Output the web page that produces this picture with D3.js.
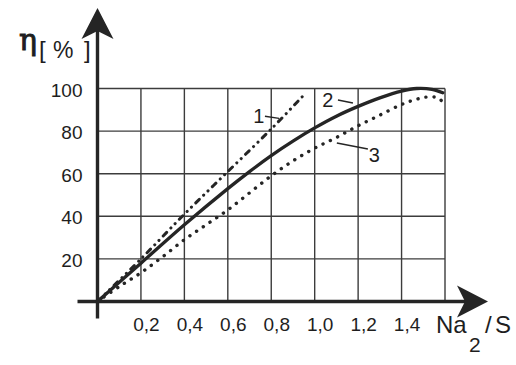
<!DOCTYPE html>
<html>
<head>
<meta charset="utf-8">
<script src="https://cdn.jsdelivr.net/npm/d3@7"></script>
<style>
  html, body { margin: 0; padding: 0; background: #ffffff; }
  svg { display: block; }
  text { font-family: "Liberation Sans", Arial, sans-serif; fill: #1e1e1e; }
</style>
</head>
<body>
<svg id="chart" width="516" height="365"></svg>
<script>
// ---- data ----
const xTickValues = [0.2, 0.4, 0.6, 0.8, 1.0, 1.2, 1.4];
const xGridValues = [0.2, 0.4, 0.6, 0.8, 1.0, 1.2, 1.4, 1.6];
const yTickValues = [20, 40, 60, 80, 100];

const curve1X = [0, 0.2, 0.4, 0.6, 0.8, 0.96];
const curve1Y = [0, 20, 41, 61, 81, 98];

const curve2X = [0, 0.2, 0.4, 0.6, 0.7, 0.8, 0.9, 1.0, 1.1, 1.2, 1.3, 1.4, 1.47, 1.54, 1.59];
const curve2Y = [0, 18, 36, 53, 61, 68.5, 75.3, 81.5, 87, 91.6, 95.6, 98.8, 100, 99.6, 98];

const curve3X = [0, 0.1, 0.2, 0.3, 0.4, 0.5, 0.6, 0.7, 0.8, 0.9, 1.0, 1.1, 1.2, 1.3, 1.4, 1.47, 1.52, 1.57, 1.6];
const curve3Y = [0, 7, 13.5, 21, 29, 36, 43, 51, 59, 66, 72, 77, 82.5, 87.5, 92.5, 95, 96, 95.5, 92];

const curveNames = ["1", "2", "3"];
// label anchor (data units) and leader line endpoints (data units)
const labelX = [0.743, 1.061, 1.275];
const labelY = [83.8, 91.3, 65.5];
const leaderX1 = [0.771, 1.107, 1.102];
const leaderY1 = [87, 94.6, 74.4];
const leaderX2 = [0.836, 1.176, 1.245];
const leaderY2 = [86, 93.2, 71.6];

const yAxisTitle = ["η", "[", "%", "]"];
const xAxisTitle = ["Na", "2", "/", "S"];

// ---- drawing ----
const svg = d3.select("#chart");
const ink = "#252525";

const x = d3.scaleLinear().domain([0, 1.6]).range([97.5, 445]);
const y = d3.scaleLinear().domain([0, 100]).range([301.5, 88.5]);

// grid
const grid = svg.append("g").attr("stroke", "#3c3c3c").attr("stroke-width", 1.4);
grid.selectAll("line.v").data(xGridValues).join("line")
  .attr("class", "v")
  .attr("x1", d => x(d)).attr("x2", d => x(d))
  .attr("y1", y(0)).attr("y2", y(100));
grid.selectAll("line.h").data(yTickValues).join("line")
  .attr("class", "h")
  .attr("x1", x(0)).attr("x2", x(1.6))
  .attr("y1", d => y(d)).attr("y2", d => y(d));

// axes lines
svg.append("line").attr("x1", x(0)).attr("x2", x(0))
  .attr("y1", y(0) + 17).attr("y2", 24)
  .attr("stroke", ink).attr("stroke-width", 3.4);
svg.append("line").attr("x1", x(0) - 20).attr("x2", 470)
  .attr("y1", y(0)).attr("y2", y(0))
  .attr("stroke", ink).attr("stroke-width", 3.3);

// arrowheads
const ax = x(0);
svg.append("path")
  .attr("d", `M${ax},8 L${ax - 16},39 L${ax},31 L${ax + 16},39 Z`)
  .attr("fill", ink);
const ay = y(0);
svg.append("path")
  .attr("d", `M488,${ay} L457,${ay - 16} L465,${ay} L457,${ay + 16} Z`)
  .attr("fill", ink);

// tick labels via d3 axes
const fmt = d => d.toFixed(1).replace(".", ",");
const xAxis = svg.append("g")
  .attr("transform", `translate(0,${y(0)})`)
  .call(d3.axisBottom(x).tickValues(xTickValues).tickFormat(fmt).tickSize(0).tickPadding(16));
xAxis.select(".domain").remove();
xAxis.selectAll("text")
  .attr("dx", 5)
  .style("font-size", "19px")
  .style("font-family", "'Liberation Sans', Arial, sans-serif")
  .attr("fill", "#1e1e1e");

const yAxis = svg.append("g")
  .attr("transform", `translate(${x(0)},0)`)
  .call(d3.axisLeft(y).tickValues(yTickValues).tickFormat(d3.format("d")).tickSize(0).tickPadding(15));
yAxis.select(".domain").remove();
yAxis.selectAll("text")
  .attr("dy", "0.72em")
  .attr("y", -6)
  .style("font-size", "19px")
  .style("font-family", "'Liberation Sans', Arial, sans-serif")
  .attr("fill", "#1e1e1e");

// curves
const line = d3.line().x(d => x(d[0])).y(d => y(d[1])).curve(d3.curveCatmullRom.alpha(0.5));
const c1 = curve1X.map((v, i) => [v, curve1Y[i]]);
const c2 = curve2X.map((v, i) => [v, curve2Y[i]]);
const c3 = curve3X.map((v, i) => [v, curve3Y[i]]);

svg.append("path").datum(c1).attr("d", line)
  .attr("fill", "none").attr("stroke", ink).attr("stroke-width", 3)
  .attr("stroke-linecap", "round")
  .attr("stroke-dasharray", "5,6,0.1,6,0.1,6");
svg.append("path").datum(c2).attr("d", line)
  .attr("fill", "none").attr("stroke", ink).attr("stroke-width", 3.3)
  .attr("stroke-linecap", "round");
svg.append("path").datum(c3).attr("d", line)
  .attr("fill", "none").attr("stroke", ink).attr("stroke-width", 3.4)
  .attr("stroke-linecap", "round")
  .attr("stroke-dasharray", "0.1,8");

// curve labels and leaders
const ann = svg.append("g");
ann.selectAll("line").data(curveNames).join("line")
  .attr("x1", (d, i) => x(leaderX1[i])).attr("y1", (d, i) => y(leaderY1[i]))
  .attr("x2", (d, i) => x(leaderX2[i])).attr("y2", (d, i) => y(leaderY2[i]))
  .attr("stroke", ink).attr("stroke-width", 1.4);
ann.selectAll("text").data(curveNames).join("text")
  .attr("x", (d, i) => x(labelX[i])).attr("y", (d, i) => y(labelY[i]))
  .attr("text-anchor", "middle")
  .style("font-size", "20px")
  .text(d => d);

// axis titles
svg.append("text").attr("x", 19).attr("y", 50)
  .style("font-family", "'DejaVu Serif', serif")
  .style("font-size", "30px")
  .attr("stroke", "#1e1e1e").attr("stroke-width", 0.9)
  .text(yAxisTitle[0]);
svg.append("text").attr("x", 39).attr("y", 58).style("font-size", "24px").text(yAxisTitle[1]);
svg.append("text").attr("x", 53).attr("y", 58).style("font-size", "23px").text(yAxisTitle[2]);
svg.append("text").attr("x", 84).attr("y", 58).style("font-size", "24px").text(yAxisTitle[3]);

svg.append("text").attr("x", 436).attr("y", 333).style("font-size", "24px").text(xAxisTitle[0]);
svg.append("text").attr("x", 469).attr("y", 352).style("font-size", "21px").text(xAxisTitle[1]);
svg.append("text").attr("x", 485).attr("y", 333).style("font-size", "24px").text(xAxisTitle[2]);
svg.append("text").attr("x", 495).attr("y", 333).style("font-size", "24px").text(xAxisTitle[3]);
</script>
</body>
</html>
